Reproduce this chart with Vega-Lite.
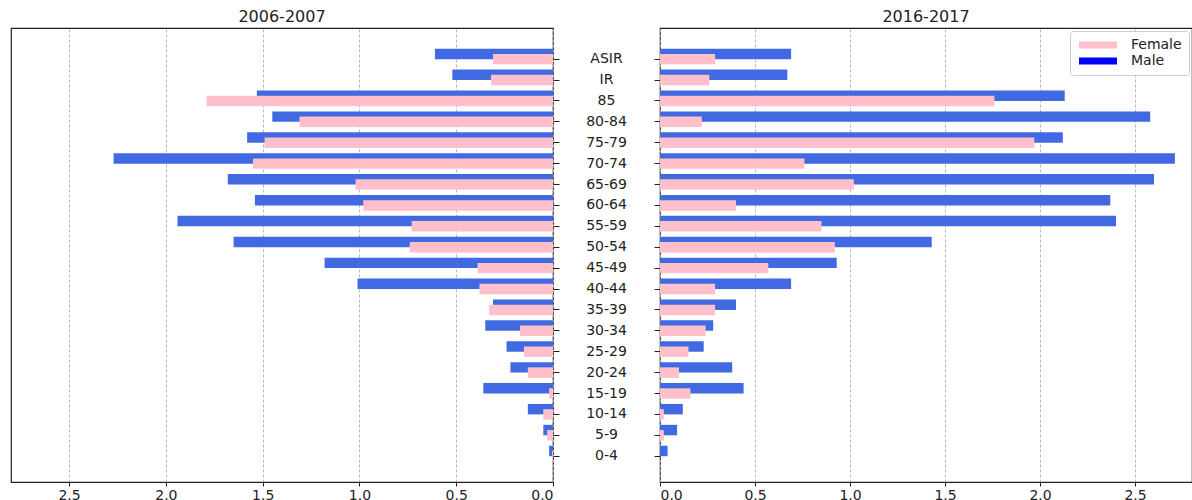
{
  "$schema": "https://vega.github.io/schema/vega-lite/v6.json",
  "padding": {"left": 10, "top": 8, "right": 0, "bottom": 0},
  "background": "white",
  "datasets": {
    "pop": [
      {"period": "2006-2007", "age": "ASIR", "sex": "Male", "value": 0.61},
      {"period": "2006-2007", "age": "ASIR", "sex": "Female", "value": 0.31},
      {"period": "2006-2007", "age": "IR", "sex": "Male", "value": 0.52},
      {"period": "2006-2007", "age": "IR", "sex": "Female", "value": 0.32},
      {"period": "2006-2007", "age": "85", "sex": "Male", "value": 1.53},
      {"period": "2006-2007", "age": "85", "sex": "Female", "value": 1.79},
      {"period": "2006-2007", "age": "80-84", "sex": "Male", "value": 1.45},
      {"period": "2006-2007", "age": "80-84", "sex": "Female", "value": 1.31},
      {"period": "2006-2007", "age": "75-79", "sex": "Male", "value": 1.58},
      {"period": "2006-2007", "age": "75-79", "sex": "Female", "value": 1.49},
      {"period": "2006-2007", "age": "70-74", "sex": "Male", "value": 2.27},
      {"period": "2006-2007", "age": "70-74", "sex": "Female", "value": 1.55},
      {"period": "2006-2007", "age": "65-69", "sex": "Male", "value": 1.68},
      {"period": "2006-2007", "age": "65-69", "sex": "Female", "value": 1.02},
      {"period": "2006-2007", "age": "60-64", "sex": "Male", "value": 1.54},
      {"period": "2006-2007", "age": "60-64", "sex": "Female", "value": 0.98},
      {"period": "2006-2007", "age": "55-59", "sex": "Male", "value": 1.94},
      {"period": "2006-2007", "age": "55-59", "sex": "Female", "value": 0.73},
      {"period": "2006-2007", "age": "50-54", "sex": "Male", "value": 1.65},
      {"period": "2006-2007", "age": "50-54", "sex": "Female", "value": 0.74},
      {"period": "2006-2007", "age": "45-49", "sex": "Male", "value": 1.18},
      {"period": "2006-2007", "age": "45-49", "sex": "Female", "value": 0.39},
      {"period": "2006-2007", "age": "40-44", "sex": "Male", "value": 1.01},
      {"period": "2006-2007", "age": "40-44", "sex": "Female", "value": 0.38},
      {"period": "2006-2007", "age": "35-39", "sex": "Male", "value": 0.31},
      {"period": "2006-2007", "age": "35-39", "sex": "Female", "value": 0.33},
      {"period": "2006-2007", "age": "30-34", "sex": "Male", "value": 0.35},
      {"period": "2006-2007", "age": "30-34", "sex": "Female", "value": 0.17},
      {"period": "2006-2007", "age": "25-29", "sex": "Male", "value": 0.24},
      {"period": "2006-2007", "age": "25-29", "sex": "Female", "value": 0.15},
      {"period": "2006-2007", "age": "20-24", "sex": "Male", "value": 0.22},
      {"period": "2006-2007", "age": "20-24", "sex": "Female", "value": 0.13},
      {"period": "2006-2007", "age": "15-19", "sex": "Male", "value": 0.36},
      {"period": "2006-2007", "age": "15-19", "sex": "Female", "value": 0.02},
      {"period": "2006-2007", "age": "10-14", "sex": "Male", "value": 0.13},
      {"period": "2006-2007", "age": "10-14", "sex": "Female", "value": 0.05},
      {"period": "2006-2007", "age": "5-9", "sex": "Male", "value": 0.05},
      {"period": "2006-2007", "age": "5-9", "sex": "Female", "value": 0.03},
      {"period": "2006-2007", "age": "0-4", "sex": "Male", "value": 0.02},
      {"period": "2006-2007", "age": "0-4", "sex": "Female", "value": 0.005},
      {"period": "2016-2017", "age": "ASIR", "sex": "Male", "value": 0.69},
      {"period": "2016-2017", "age": "ASIR", "sex": "Female", "value": 0.29},
      {"period": "2016-2017", "age": "IR", "sex": "Male", "value": 0.67},
      {"period": "2016-2017", "age": "IR", "sex": "Female", "value": 0.26},
      {"period": "2016-2017", "age": "85", "sex": "Male", "value": 2.13},
      {"period": "2016-2017", "age": "85", "sex": "Female", "value": 1.76},
      {"period": "2016-2017", "age": "80-84", "sex": "Male", "value": 2.58},
      {"period": "2016-2017", "age": "80-84", "sex": "Female", "value": 0.22},
      {"period": "2016-2017", "age": "75-79", "sex": "Male", "value": 2.12},
      {"period": "2016-2017", "age": "75-79", "sex": "Female", "value": 1.97},
      {"period": "2016-2017", "age": "70-74", "sex": "Male", "value": 2.71},
      {"period": "2016-2017", "age": "70-74", "sex": "Female", "value": 0.76},
      {"period": "2016-2017", "age": "65-69", "sex": "Male", "value": 2.60},
      {"period": "2016-2017", "age": "65-69", "sex": "Female", "value": 1.02},
      {"period": "2016-2017", "age": "60-64", "sex": "Male", "value": 2.37},
      {"period": "2016-2017", "age": "60-64", "sex": "Female", "value": 0.40},
      {"period": "2016-2017", "age": "55-59", "sex": "Male", "value": 2.40},
      {"period": "2016-2017", "age": "55-59", "sex": "Female", "value": 0.85},
      {"period": "2016-2017", "age": "50-54", "sex": "Male", "value": 1.43},
      {"period": "2016-2017", "age": "50-54", "sex": "Female", "value": 0.92},
      {"period": "2016-2017", "age": "45-49", "sex": "Male", "value": 0.93},
      {"period": "2016-2017", "age": "45-49", "sex": "Female", "value": 0.57},
      {"period": "2016-2017", "age": "40-44", "sex": "Male", "value": 0.69},
      {"period": "2016-2017", "age": "40-44", "sex": "Female", "value": 0.29},
      {"period": "2016-2017", "age": "35-39", "sex": "Male", "value": 0.40},
      {"period": "2016-2017", "age": "35-39", "sex": "Female", "value": 0.29},
      {"period": "2016-2017", "age": "30-34", "sex": "Male", "value": 0.28},
      {"period": "2016-2017", "age": "30-34", "sex": "Female", "value": 0.24},
      {"period": "2016-2017", "age": "25-29", "sex": "Male", "value": 0.23},
      {"period": "2016-2017", "age": "25-29", "sex": "Female", "value": 0.15},
      {"period": "2016-2017", "age": "20-24", "sex": "Male", "value": 0.38},
      {"period": "2016-2017", "age": "20-24", "sex": "Female", "value": 0.10},
      {"period": "2016-2017", "age": "15-19", "sex": "Male", "value": 0.44},
      {"period": "2016-2017", "age": "15-19", "sex": "Female", "value": 0.16},
      {"period": "2016-2017", "age": "10-14", "sex": "Male", "value": 0.12},
      {"period": "2016-2017", "age": "10-14", "sex": "Female", "value": 0.02},
      {"period": "2016-2017", "age": "5-9", "sex": "Male", "value": 0.09},
      {"period": "2016-2017", "age": "5-9", "sex": "Female", "value": 0.02},
      {"period": "2016-2017", "age": "0-4", "sex": "Male", "value": 0.04},
      {"period": "2016-2017", "age": "0-4", "sex": "Female", "value": 0.0}
    ]
  },
  "data": {"name": "pop"},
  "spacing": 24,
  "resolve": {"scale": {"color": "independent"}, "legend": {"color": "independent"}},
  "hconcat": [
    {
      "width": 542,
      "height": 454,
      "title": {"text": "2006-2007"},
      "transform": [{"filter": "datum.period === '2006-2007'"}],
      "layer": [
        {
          "transform": [{"filter": "datum.sex === 'Male'"}],
          "mark": {"type": "bar", "height": {"band": 0.5}, "color": "#4169e1"},
          "encoding": {
            "y": {"field": "age", "type": "ordinal", "sort": ["ASIR","IR","85","80-84","75-79","70-74","65-69","60-64","55-59","50-54","45-49","40-44","35-39","30-34","25-29","20-24","15-19","10-14","5-9","0-4"],
                  "scale": {"paddingInner": 0, "paddingOuter": 0.8625, "align": 0.429}, "axis": null},
            "x": {"field": "value", "type": "quantitative", "scale": {"domain": [0, 2.8], "reverse": true, "nice": false},
                  "axis": {"values": [0, 0.5, 1, 1.5, 2, 2.5], "format": ".1f", "title": null, "grid": true}}
          }
        },
        {
          "transform": [{"filter": "datum.sex === 'Female'"}],
          "mark": {"type": "bar", "height": {"band": 0.5}, "color": "#ffc0cb"},
          "encoding": {
            "y": {"field": "age", "type": "ordinal", "sort": ["ASIR","IR","85","80-84","75-79","70-74","65-69","60-64","55-59","50-54","45-49","40-44","35-39","30-34","25-29","20-24","15-19","10-14","5-9","0-4"],
                  "scale": {"paddingInner": 0, "paddingOuter": 0.8625, "align": 0.574},
                  "axis": {"orient": "right", "title": null, "labels": false, "ticks": true, "tickSize": 6, "grid": false, "domain": false}},
            "x": {"field": "value", "type": "quantitative"}
          }
        }
      ],
      "resolve": {"scale": {"y": "independent"}}
    },
    {
      "width": 532,
      "height": 454,
      "title": {"text": "2016-2017"},
      "transform": [{"filter": "datum.period === '2016-2017'"}],
      "layer": [
        {
          "transform": [{"filter": "datum.sex === 'Male'"}],
          "mark": {"type": "bar", "height": {"band": 0.5}, "color": "#4169e1"},
          "encoding": {
            "y": {"field": "age", "type": "ordinal", "sort": ["ASIR","IR","85","80-84","75-79","70-74","65-69","60-64","55-59","50-54","45-49","40-44","35-39","30-34","25-29","20-24","15-19","10-14","5-9","0-4"],
                  "scale": {"paddingInner": 0, "paddingOuter": 0.8625, "align": 0.429}, "axis": null},
            "x": {"field": "value", "type": "quantitative", "scale": {"domain": [0, 2.8], "nice": false},
                  "axis": {"values": [0, 0.5, 1, 1.5, 2, 2.5], "format": ".1f", "title": null, "grid": true}}
          }
        },
        {
          "transform": [{"filter": "datum.sex === 'Female'"}],
          "mark": {"type": "bar", "height": {"band": 0.5}, "color": "#ffc0cb"},
          "encoding": {
            "y": {"field": "age", "type": "ordinal", "sort": ["ASIR","IR","85","80-84","75-79","70-74","65-69","60-64","55-59","50-54","45-49","40-44","35-39","30-34","25-29","20-24","15-19","10-14","5-9","0-4"],
                  "scale": {"paddingInner": 0, "paddingOuter": 0.8625, "align": 0.574},
                  "axis": {"orient": "left", "title": null, "tickSize": 6, "labelPadding": 48, "labelAlign": "center", "grid": false, "domain": false}},
            "x": {"field": "value", "type": "quantitative"}
          }
        },
        {
          "transform": [{"filter": "datum.value < 0"}],
          "mark": {"type": "bar"},
          "encoding": {
            "color": {"field": "sex", "type": "nominal",
                      "scale": {"domain": ["Female", "Male"], "range": ["#ffc0cb", "#0000ff"]},
                      "legend": {"title": null, "orient": "top-right", "offset": 3,
                                 "symbolType": "M-1,-0.7H6.6V0.7H-1Z", "symbolSize": 100, "symbolStrokeWidth": 0, "symbolOpacity": 1,
                                 "labelFontSize": 14, "labelColor": "#222", "labelOffset": 40, "rowPadding": 2,
                                 "padding": 7, "fillColor": "white", "strokeColor": "#cccccc", "cornerRadius": 3}}
          }
        }
      ],
      "resolve": {"scale": {"y": "independent"}}
    }
  ],
  "config": {
    "font": "DejaVu Sans",
    "view": {"stroke": "#222222", "strokeWidth": 1.2},
    "title": {"fontSize": 16, "fontWeight": "normal", "color": "#222222", "offset": 3, "anchor": "middle"},
    "axis": {"labelFontSize": 14, "labelColor": "#222222", "tickColor": "#222222", "domain": false,
             "gridColor": "#b0b0b0", "gridDash": [3, 2], "gridWidth": 0.9},
    "axisX": {"tickSize": 4, "labelPadding": 2},
    "bar": {"stroke": null}
  }
}
